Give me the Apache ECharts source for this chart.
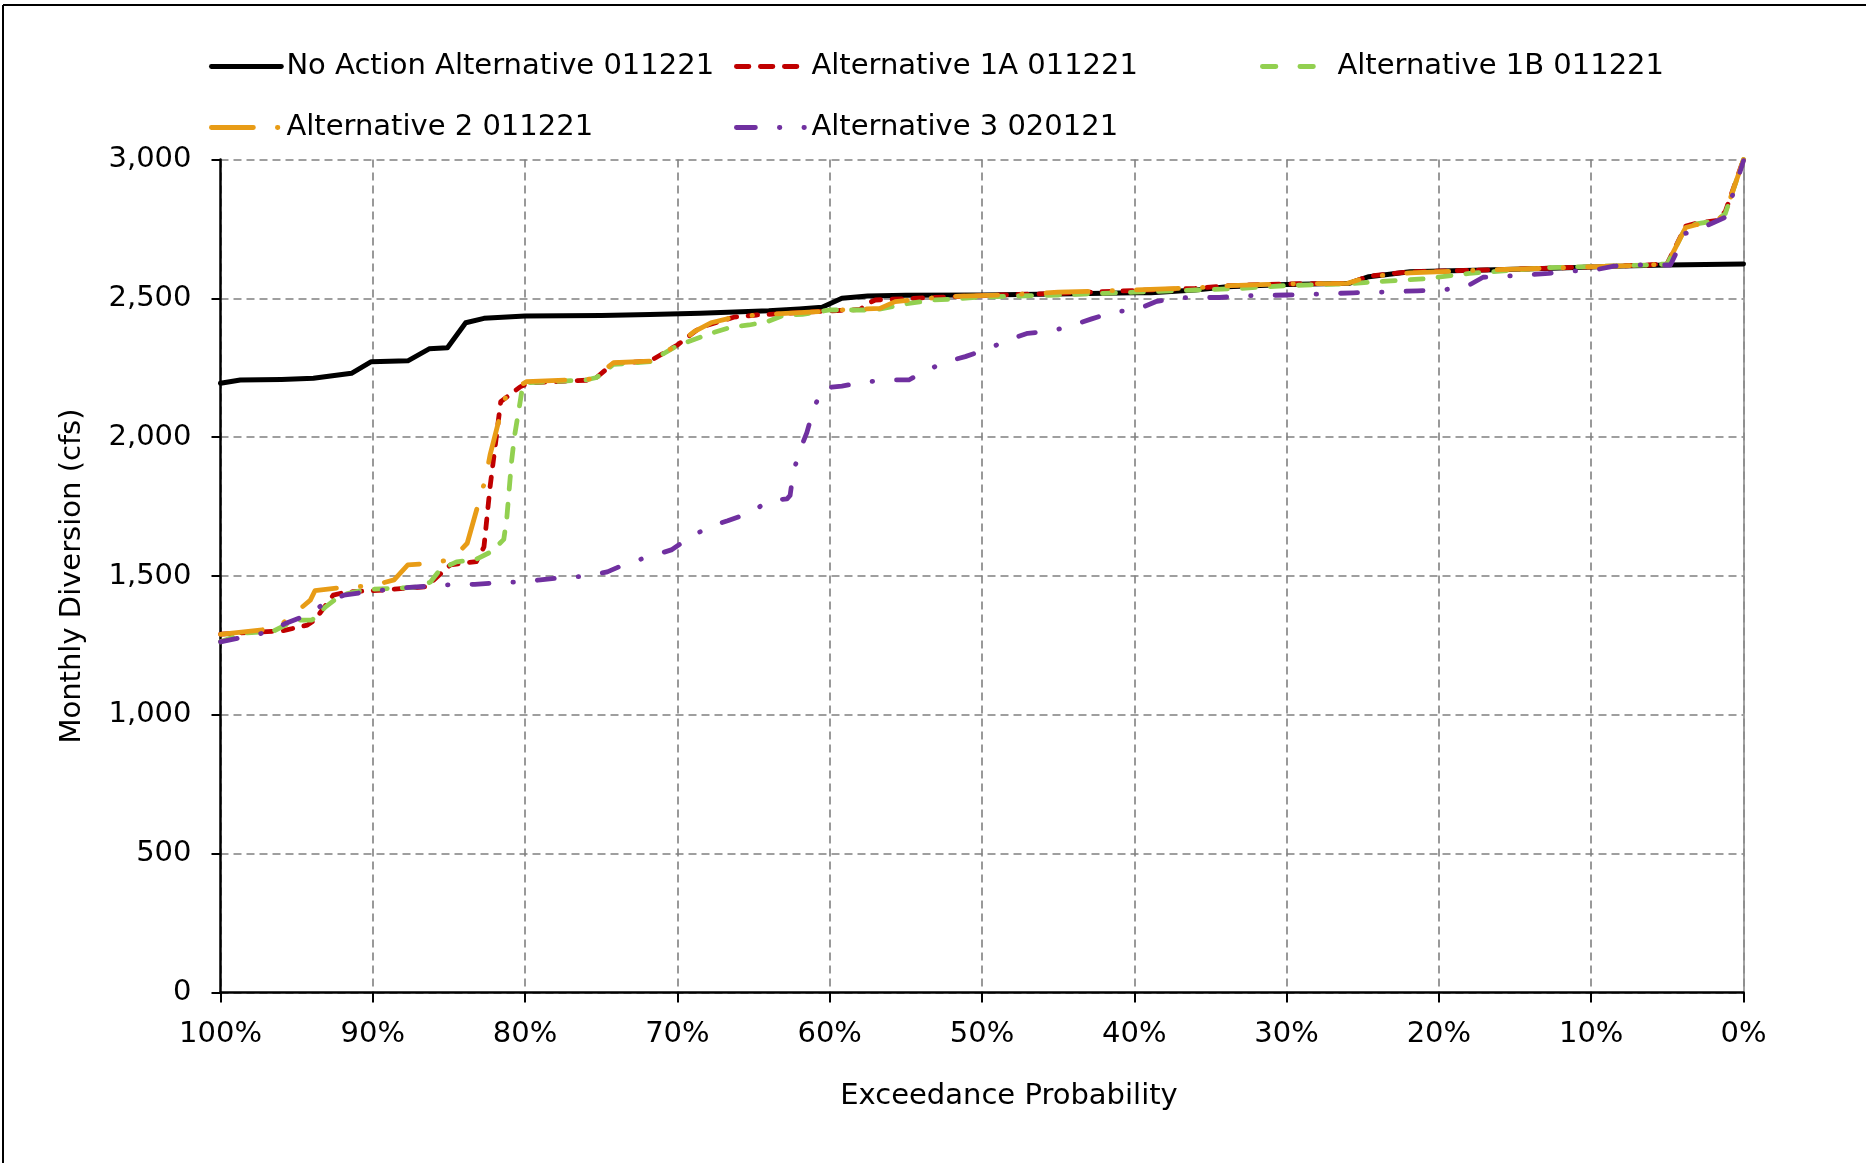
<!DOCTYPE html>
<html>
<head>
<meta charset="utf-8">
<script src="https://cdn.jsdelivr.net/npm/echarts@6/dist/echarts.min.js"></script>
<style>
  html, body { margin: 0; padding: 0; background: #fff; }
  #chart { width: 1866px; height: 1163px; }
</style>
</head>
<body>
<div id="chart"></div>
<script>
// ---- Data (exceedance probability %, monthly diversion cfs) ----
const seriesNames = [
  'No Action Alternative 011221',
  'Alternative 1A 011221',
  'Alternative 1B 011221',
  'Alternative 2 011221',
  'Alternative 3 020121'
];

const noAction = [
  [100,2194],[98.7,2206],[96,2208],[93.9,2212],[91.4,2230],[90.1,2272],[87.7,2275],
  [86.3,2318],[85.1,2322],[83.9,2412],[82.7,2428],[80,2436],[75,2438],[71.8,2442],
  [68.5,2446],[64,2455],[62,2462],[60.5,2468],[59.2,2500],[57.5,2508],[55,2511],
  [50,2512],[45,2516],[40,2520],[38.9,2520],[36,2530],[33.9,2542],[30,2550],
  [25.9,2554],[24.6,2578],[21.9,2596],[17,2602],[12.6,2608],[8,2616],[5,2620],[0,2624]
];

const alt1A = [
  [100,1291],[95.9,1303],[94.3,1323],[93.8,1342],[92.6,1431],[91.7,1443],[90,1447],
  [86.5,1461],[84.9,1540],[83.2,1552],[82.7,1605],[82.3,1821],[81.6,2128],[80.3,2182],
  [79.7,2196],[75.5,2206],[74.2,2266],[71.8,2274],[70,2332],[68.5,2395],[66.3,2432],
  [64.8,2440],[60.2,2454],[58,2460],[57.5,2482],[57,2494],[54.6,2500],[51,2508],
  [48.7,2512],[45,2518],[40,2528],[36,2536],[33.7,2546],[30,2552],[25.9,2554],
  [24.6,2580],[21.9,2596],[17.6,2601],[13.1,2608],[6.3,2620],[5.0,2626],[3.8,2760],
  [3.1,2770],[1.8,2780],[1.2,2812],[0,3000]
];

const alt1B = [
  [100,1263],[98.5,1294],[96.5,1302],[95.1,1341],[94,1341],[93.1,1389],[92.1,1431],
  [91.2,1443],[90.2,1452],[87,1460],[86.2,1479],[85.6,1522],[84.5,1551],[83.3,1558],
  [82.2,1588],[81.4,1632],[81.2,1709],[80.9,1907],[80.7,2002],[80.2,2170],[79.9,2196],
  [76,2206],[75.3,2215],[74.2,2262],[71.8,2272],[70,2330],[67.8,2374],[66.5,2396],
  [65.3,2404],[64.1,2416],[63,2440],[61.8,2442],[60,2458],[57,2458],[55,2480],
  [53.2,2494],[52.2,2496],[50,2505],[45,2512],[40,2522],[36,2530],[33,2536],[30,2546],
  [26,2552],[24,2560],[21,2570],[18,2590],[13,2610],[6.3,2620],[5,2624],[3.8,2755],
  [3.1,2768],[1.8,2780],[1.2,2805],[0,3000]
];

const alt2 = [
  [100,1290],[96.3,1312],[94.1,1413],[93.8,1447],[91.7,1461],[90.1,1464],[88.6,1486],
  [87.7,1540],[86.2,1546],[84.8,1560],[83.8,1618],[83.0,1774],[82.6,1849],[82.3,1936],
  [81.6,2086],[81.2,2158],[79.9,2200],[75.5,2210],[74.2,2268],[71.8,2274],[70,2332],
  [68.9,2380],[67.8,2412],[66.3,2432],[64.8,2440],[60.2,2454],[58.7,2460],[56.7,2464],
  [55.7,2488],[54.6,2494],[53,2503],[51.4,2508],[48.7,2512],[45,2522],[40,2530],
  [36,2538],[33.7,2546],[30,2552],[26,2554],[24.6,2578],[21.9,2592],[17.6,2601],
  [13.1,2608],[6.3,2620],[5.0,2624],[3.8,2755],[3.1,2765],[1.8,2778],[1.2,2805],[0,3000]
];

const alt3 = [
  [100,1263],[98.3,1282],[96.7,1300],[95.7,1330],[94.3,1360],[93,1407],[91.9,1431],
  [90.4,1443],[88.9,1452],[87.6,1459],[86.1,1464],[84.5,1470],[83.3,1470],[81.7,1476],
  [80.1,1479],[79,1486],[77.4,1495],[75.9,1500],[74.6,1515],[73.2,1548],[71.8,1570],
  [70.4,1594],[69.2,1638],[67.9,1678],[66.7,1699],[65.2,1728],[64,1771],[62.8,1778],
  [62.6,1790],[62.4,1870],[62,1948],[61.5,2016],[61.1,2094],[60.5,2176],[59.2,2184],
  [57.8,2198],[56.2,2206],[54.8,2206],[53.7,2240],[52.3,2272],[51.1,2290],[49.6,2318],
  [48.3,2350],[47,2374],[45.5,2381],[44,2404],[42.8,2426],[41.3,2452],[39.9,2458],
  [38.6,2488],[37.2,2502],[35.7,2503],[34.4,2503],[32.8,2509],[30,2512],[28.5,2514],
  [25.6,2520],[24.1,2522],[21.4,2527],[19.8,2530],[18.2,2542],[17.1,2576],[15.6,2580],
  [12.8,2590],[11.3,2598],[9.8,2602],[8.5,2616],[6.9,2620],[4.8,2620],[3.8,2734],
  [2.5,2760],[1.2,2792],[0.75,2866],[0,2996]
];

const xTicks = { min: 0, max: 100, interval: 10 };
const yTicks = { min: 0, max: 3000, interval: 500 };

// ---- Chart ----
const FONT = 'DejaVu Sans';
const FS = 29;
const chart = echarts.init(document.getElementById('chart'));

const styles = [
  { color: '#000000', width: 5, type: 'solid' },
  { color: '#C00000', width: 4.8, type: [9.5, 11.5] },
  { color: '#92D050', width: 4.8, type: [13, 15] },
  { color: '#E89C16', width: 4.8, type: [42, 24, 0.5, 24] },
  { color: '#7030A0', width: 4.8, type: [17, 24, 0.5, 24] }
];
const dataSets = [noAction, alt1A, alt1B, alt2, alt3];

const legendPos = [
  { left: 209, top: 52 },
  { left: 734, top: 52 },
  { left: 1260, top: 52 },
  { left: 209, top: 113 },
  { left: 734, top: 113 }
];
const legendDash = [
  'solid',
  [12.5, 11.5],
  [13.5, 24, 13.5, 200],
  [42, 24, 0.5, 200],
  [19, 24, 0.5, 24, 0.5, 200]
];

const legends = seriesNames.map((n, i) => ({
  data: [{ name: n }],
  left: legendPos[i].left,
  top: legendPos[i].top,
  padding: 0,
  itemWidth: 70,
  itemHeight: 1,
  selectedMode: false,
  itemStyle: { opacity: 0 },
  lineStyle: { width: 4.8, color: styles[i].color, type: legendDash[i], cap: 'round' },
  textStyle: { fontFamily: FONT, fontSize: FS, color: '#000', lineHeight: 29, padding: 0 }
}));

const option = {
  animation: false,
  backgroundColor: '#fff',
  textStyle: { fontFamily: FONT },
  legend: legends,
  grid: { left: 220.5, right: 122.5, top: 159.5, bottom: 170.5, containLabel: false },
  xAxis: {
    type: 'value',
    inverse: true,
    min: xTicks.min, max: xTicks.max, interval: xTicks.interval,
    name: 'Exceedance Probability',
    nameLocation: 'middle',
    nameGap: 89,
    nameTextStyle: { fontFamily: FONT, fontSize: FS, color: '#000', padding: [0, 0, 0, 54] },
    axisLine: { show: true, onZero: false, lineStyle: { color: '#000', width: 2.5 } },
    axisTick: { show: true, length: 10, lineStyle: { color: '#000', width: 2 } },
    axisLabel: { fontFamily: FONT, fontSize: FS, color: '#000', margin: 27,
                 formatter: v => v + '%' },
    splitLine: { show: true, lineStyle: { color: '#808080', width: 1.6, type: [8, 5] } }
  },
  yAxis: [{
    type: 'value',
    position: 'left',
    min: yTicks.min, max: yTicks.max, interval: yTicks.interval,
    name: 'Monthly Diversion (cfs)',
    nameLocation: 'middle',
    nameGap: 134,
    nameTextStyle: { fontFamily: FONT, fontSize: FS, color: '#000' },
    axisLine: { show: true, onZero: false, lineStyle: { color: '#000', width: 2.5 } },
    axisTick: { show: true, length: 9, lineStyle: { color: '#000', width: 2 } },
    axisLabel: { fontFamily: FONT, fontSize: FS, color: '#000', margin: 29,
                 formatter: v => v.toLocaleString('en-US') },
    splitLine: { show: true, lineStyle: { color: '#808080', width: 1.6, type: [8, 5] } }
  }, {
    type: 'value',
    position: 'right',
    min: yTicks.min, max: yTicks.max, interval: yTicks.interval,
    axisLine: { show: true, onZero: false, lineStyle: { color: '#8c8c8c', width: 1.6 } },
    axisTick: { show: false },
    axisLabel: { show: false },
    splitLine: { show: false }
  }],
  series: seriesNames.map((n, i) => ({
    name: n,
    type: 'line',
    yAxisIndex: 0,
    data: dataSets[i],
    symbol: 'none',
    showSymbol: false,
    smooth: false,
    lineStyle: { color: styles[i].color, width: styles[i].width, type: styles[i].type, cap: 'round', join: 'round' },
    itemStyle: { color: styles[i].color },
    emphasis: { disabled: true }
  })),
  graphic: [
    { type: 'line', shape: { x1: 3, y1: 5, x2: 1866, y2: 5 }, style: { stroke: '#000', lineWidth: 2 }, silent: true },
    { type: 'line', shape: { x1: 3, y1: 5, x2: 3, y2: 1163 }, style: { stroke: '#000', lineWidth: 2 }, silent: true }
  ]
};

chart.setOption(option);
</script>
</body>
</html>
